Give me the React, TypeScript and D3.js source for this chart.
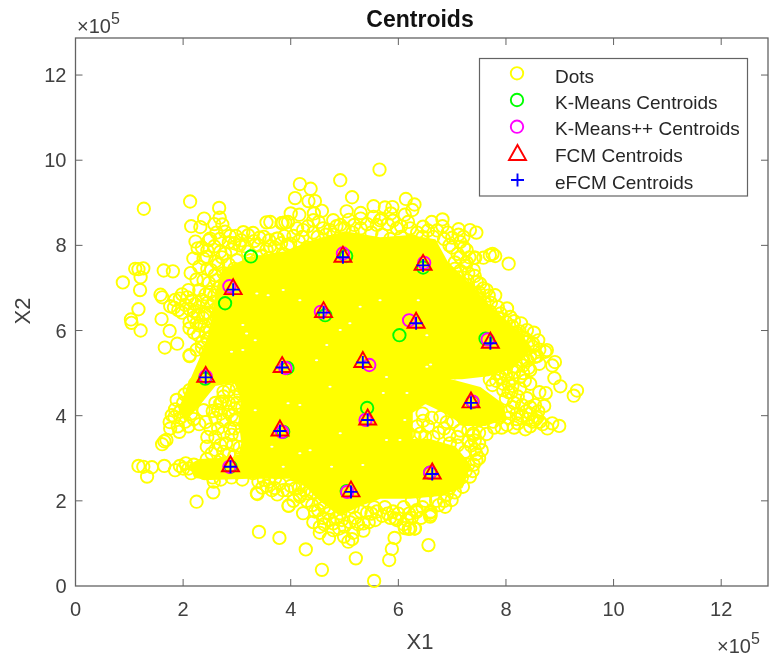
import React from "react";
import * as d3 from "d3";

// All values are in units of 10^5.
const AXIS_MAX = 12.87;
const tickValues = [0, 2, 4, 6, 8, 10, 12];
const chartTitle = "Centroids";
const xLabel = "X1";
const yLabel = "X2";
const legendLabels = ["Dots", "K-Means Centroids", "K-Means++ Centroids", "FCM Centroids", "eFCM Centroids"];

// Individually readable "Dots" (fringe of the cloud), estimated by eye.
const dotPoints: [number, number][] = [
  [1.27,8.86],[2.13,9.03],[2.67,8.88],[2.68,8.65],[2.39,8.63],[2.15,8.45],[2.32,8.43],[2.58,8.5],[2.73,8.49],[2.5,8.16],
  [2.23,8.09],[2.27,7.93],[2.87,8.22],[2.85,8.07],[3.12,8.31],[3.3,8.29],[3.21,8.24],[3.55,8.54],[3.76,8.16],[3.5,8.2],
  [2.19,7.69],[2.38,7.69],[2.44,7.73],[2.14,7.35],[1.64,7.41],[1.81,7.39],[1.11,7.45],[1.26,7.46],[1.17,7.44],[1.21,7.25],
  [0.88,7.13],[1.2,6.95],[1.58,6.84],[1.61,6.78],[1.17,6.5],[1.03,6.26],[1.04,6.18],[1.21,6.0],[1.6,6.27],[1.75,5.99],
  [1.66,5.6],[1.89,5.69],[2.12,5.42],[2.12,6.05],[2.28,5.89],[1.76,6.57],[1.83,6.54],[1.91,6.48],[1.94,6.75],[2.1,6.95],
  [2.04,6.6],[2.16,6.7],[2.38,7.18],[2.59,7.3],[2.78,7.81],[2.69,7.85],[2.25,6.17],[2.37,6.3],[2.3,6.55],[2.2,6.45],
  [5.65,9.78],[4.92,9.53],[4.17,9.44],[4.37,9.33],[4.08,9.11],[4.33,9.04],[4.45,9.04],[5.14,9.13],[6.14,9.09],[6.3,8.96],
  [6.26,8.83],[6.12,8.72],[5.04,8.8],[4.58,8.81],[4.43,8.75],[5.54,8.92],[5.75,8.89],[5.89,8.9],[5.86,8.75],[5.3,8.76],
  [4.0,8.75],[4.16,8.72],[3.85,8.53],[3.95,8.55],[3.62,8.55],[4.42,8.59],[4.52,8.55],[4.79,8.59],[4.92,8.48],[5.3,8.63],
  [5.54,8.67],[5.69,8.63],[5.97,8.4],[6.22,8.4],[6.46,8.44],[6.62,8.55],[6.82,8.61],[6.82,8.45],[7.12,8.38],[7.33,8.36],
  [7.45,8.3],[7.21,8.2],[7.15,8.08],[7.43,7.71],[7.58,7.71],[7.7,7.77],[7.27,7.89],[7.27,7.6],[7.46,7.14],[7.58,6.99],
  [7.5,6.9],[3.74,8.16],[3.99,8.04],[4.23,8.36],[4.73,8.36],[3.83,8.52],[3.9,8.54],[5.66,8.59],
  [8.05,7.57],[7.8,7.75],[7.75,7.8],[7.41,7.71],[8.28,6.17],[8.39,6.01],[8.6,5.77],[8.73,5.5],[8.91,5.26],[8.86,5.18],
  [8.9,4.88],[9.01,4.69],[9.32,4.59],[9.26,4.47],[8.74,4.53],[8.71,4.23],[8.99,3.76],[8.86,3.82],[8.77,3.7],[8.63,3.86],
  [8.36,3.68],[8.54,3.9],[7.64,3.57],[7.39,3.58],[7.05,5.02],[8.42,5.12],[8.26,4.91],[8.11,4.88],[7.95,4.6],[8.26,4.64],
  [8.39,4.41],[8.54,4.25],[8.37,4.1],[8.02,3.78],[7.76,3.86],[8.54,5.38],[8.45,5.07],[8.02,6.52],[7.9,6.4],[7.8,6.83],
  [7.64,6.95],[8.5,5.62],[8.76,5.54],[8.22,3.82],[8.5,3.86],[8.15,4.3],[8.3,4.0],[8.05,4.1],[8.62,4.55],[8.1,4.55],
  [6.56,0.96],[6.22,1.35],[6.31,1.35],[6.12,1.36],[6.6,1.67],[6.6,1.75],[6.34,1.74],[6.87,1.86],[6.99,2.02],[6.2,1.7],
  [7.2,2.33],[7.33,2.57],[7.55,3.19],[7.45,2.95],[7.39,3.54],[7.02,3.86],[6.78,3.97],[6.46,3.88],[7.3,3.66],[6.65,3.5],
  [6.41,3.58],[6.19,3.59],[6.96,3.35],[7.24,3.15],[7.5,3.6],[6.85,3.7],[7.1,3.5],[6.55,3.75],
  [2.12,5.4],[1.17,2.82],[1.26,2.8],[1.42,2.79],[1.33,2.57],[1.65,2.82],[1.94,2.82],[2.0,2.76],[2.1,2.76],[2.25,1.98],
  [2.57,2.45],[2.56,2.2],[3.38,2.16],[3.47,2.31],[3.96,1.89],[3.94,2.25],[4.08,2.29],[1.61,3.33],[1.69,3.43],[1.65,3.4],
  [1.76,3.7],[1.93,3.62],[1.84,3.97],[2.04,3.86],[1.94,4.09],[2.05,4.15],[2.51,3.68],[2.44,3.27],[2.53,3.11],[2.69,3.31],
  [2.8,3.35],[2.93,3.31],[2.55,4.11],[2.65,4.13],[2.69,4.29],[2.75,4.56],[2.75,4.45],[2.72,4.33],[2.84,4.09],[2.96,4.17],
  [3.0,3.92],[2.38,4.13],[2.87,3.7],[2.69,2.96],[2.44,2.98],[3.09,3.11],[3.2,3.0],[3.06,4.52],[3.21,4.68],[3.0,4.64],
  [3.65,2.25],[3.86,2.25],[4.17,2.1],[1.88,4.37],[2.03,4.5],[1.79,4.01],[1.9,3.75],[3.05,3.55],[3.15,3.8],[3.1,4.2],
  [2.95,3.9],[3.2,4.3],[2.6,3.5],[2.75,3.6],[3.05,3.25],[2.85,3.1],
  [5.55,0.12],[4.58,0.38],[5.21,0.65],[5.83,0.61],[5.88,0.87],[5.93,1.13],[4.28,0.86],[3.79,1.13],[3.41,1.27],[3.96,1.88],
  [3.37,2.18],[4.23,1.71],[4.42,1.5],[4.54,1.25],[4.71,1.12],[4.79,1.47],[4.99,1.16],[5.07,1.04],[5.14,1.1],[5.16,1.25],
  [5.35,1.3],[5.57,1.55],[5.94,1.59],[6.19,1.34],[6.3,1.35],[6.34,1.78],[6.59,1.63],[6.59,1.72],[4.51,1.78],[4.17,2.14],
  [4.3,2.18],[3.71,2.53],[3.3,2.65],[4.92,1.71],[4.79,1.31],[4.54,1.39],[5.35,1.47],[5.5,1.7],[6.16,1.55],[5.97,1.55],
  [5.8,1.7],[5.15,1.85],
  [2.9,7.9],[3.05,8.0],[3.2,7.85],[3.4,8.0],[3.55,7.9],[3.7,7.95],[3.85,7.8],[3.95,8.0],[4.15,8.1],[4.3,7.95],
  [4.5,8.2],[4.65,8.0],[4.8,8.25],[5.0,8.4],[5.15,8.3],[5.3,8.4],[5.5,8.3],[5.7,8.25],[5.85,8.15],[6.05,8.2],
  [6.25,8.1],[6.45,8.2],[6.65,8.2],[6.85,8.15],[7.0,7.95],[7.1,7.8],[7.05,7.6],[7.15,7.4],[7.3,7.35],[7.2,7.1],
  [7.35,6.9],[7.5,6.75],[7.6,6.65],[7.7,6.45],[7.85,6.3],[8.0,6.2],[8.12,6.1],[8.2,5.95],[8.3,5.85],[8.42,5.75],
  [8.35,5.55],[8.45,5.4],[8.3,5.3],[8.18,5.15],[8.0,5.1],[7.85,5.0],[7.7,4.85],[8.05,4.75],[7.9,4.9],
  [2.5,6.9],[2.65,7.0],[2.45,6.65],[2.6,6.5],[2.4,6.4],[2.55,6.2],[2.5,6.0],[2.45,5.8],[2.35,5.6],[2.4,6.1],[2.2,6.3],
  [3.0,7.3],[3.15,7.45],[3.3,7.4],[2.85,7.55],[3.0,7.65],[3.4,7.6],[3.55,7.5],[2.75,7.35],[2.9,7.2],[3.1,7.2],
  [3.6,7.7],[3.75,7.55],[3.9,7.6],[4.1,7.7],[4.0,7.4],[4.25,7.5],[3.45,7.75],[3.25,7.65],[2.95,7.45],[2.65,7.55],
  [3.6,2.45],[3.8,2.4],[4.0,2.35],[4.15,2.3],[4.3,2.0],[4.4,1.9],[4.55,1.95],[4.6,1.6],[4.7,1.7],[4.85,1.6],
  [5.0,1.4],[5.25,1.45],[5.45,1.5],[5.6,1.75],[5.75,1.85],[5.9,1.75],[6.1,1.85],[6.25,2.0],[6.5,2.0],[6.7,2.0],
  [6.9,2.15],[7.1,2.45],[7.25,2.7],[7.4,2.85],[7.45,3.1],[7.35,3.3],[7.5,3.35],
  [2.3,7.5],[2.45,7.45],[2.25,7.2],[2.48,7.12],[2.62,7.18],[2.3,6.95],[2.42,6.85],[2.58,6.82],[2.22,6.62],[2.35,6.72],
  [2.52,6.58],[2.12,6.5],[1.98,6.42],[1.85,6.72],[1.98,6.85],[2.08,6.78],[2.28,6.38],[2.45,6.42],[2.12,6.2],[2.3,6.12],
  [2.42,5.95],[2.2,5.95],[2.35,5.72],[2.25,5.55],[2.42,5.5],[2.55,5.7],[2.6,5.95],[2.62,6.3],[2.58,6.68],[2.78,7.05],
  [2.52,7.42],[2.6,7.62],[2.45,7.88],[2.58,7.98],[2.72,7.72],[2.35,7.95],[2.48,8.12],[2.68,8.15],[2.62,8.3],[2.78,8.32],
  [2.98,8.22],[2.95,8.05],[3.08,8.12],[3.15,7.98],[3.32,8.1],[3.42,8.18],[3.6,8.12],[3.62,7.98],[3.82,8.05],[3.88,8.22],
  [4.05,8.22],[4.12,8.4],[4.22,8.2],[4.32,8.45],[4.42,8.3],[4.6,8.4],[4.65,8.25],[4.85,8.45],[5.08,8.6],[5.18,8.48],
  [5.42,8.5],[5.6,8.48],[5.8,8.5],[5.9,8.58],[6.05,8.45],[6.18,8.55],[6.35,8.3],[6.55,8.35],[6.72,8.35],[6.92,8.3],
  [7.0,8.18],[7.12,8.25],[6.95,8.0],[7.22,7.95],[7.15,7.72],[7.32,7.72],[7.05,7.45],[7.25,7.52],[7.4,7.42],[7.12,7.25],
  [7.28,7.18],[7.42,7.28],[7.52,7.1],[7.3,6.98],[7.45,6.85],[7.68,6.82],[7.55,6.55],[7.72,6.65],[7.85,6.55],
  [7.82,6.18],[7.95,6.05],[8.08,6.32],[8.15,6.22],[8.25,5.98],[8.12,5.95],[8.35,5.82],[8.52,5.95],[8.5,5.7],[8.62,5.55],
  [8.58,5.4],[8.4,5.3],[8.62,5.22],[8.32,5.18],[8.15,5.02],[8.32,5.0],[8.0,4.95],[7.82,4.82],[7.95,4.75],[8.12,4.7],
  [7.75,4.72],[8.35,4.82],[8.45,4.75],[8.05,4.55],[8.22,4.45],[8.0,4.4],[8.3,4.25],[8.12,4.2],[8.45,4.2],[8.45,4.05],
  [8.2,4.05],[8.6,4.1],[8.58,3.95],[8.4,3.92],[8.2,3.92],[8.05,3.95],[7.88,3.95],[7.78,3.72],[7.92,3.72],[8.15,3.72],
  [8.45,3.75],[8.68,3.8],
  [6.5,3.5],[6.75,3.6],[6.95,3.55],[7.15,3.65],[7.3,3.4],[7.1,3.3],[6.9,3.85],[6.62,3.95],[6.45,4.05],[6.35,3.75],
  [6.3,3.5],[7.42,3.42],[7.2,3.95],
  [2.9,3.55],[2.65,3.7],[2.45,3.5],[2.6,3.2],[2.75,3.15],[2.95,3.05],[2.85,4.3],[2.95,4.45],[2.85,4.6],[3.0,4.3],
  [2.9,4.0],[2.75,3.9],[2.6,3.95],[2.42,3.85],[2.3,3.8],[2.95,3.7],[2.7,4.05],[2.6,4.3],
  [1.75,3.85],[1.85,4.15],[2.0,4.3],[2.15,4.05],[2.2,3.92],[2.1,3.75],[1.95,3.95],[2.12,4.6],[2.22,4.75],
  [2.2,2.85],[2.3,2.75],[2.4,2.65],[2.15,2.65],[2.05,2.88],[1.85,2.72],[2.55,2.55],[2.7,2.5],[2.9,2.55],[3.1,2.5],
  [3.4,2.45],[3.5,2.5],
  [3.55,2.35],[3.7,2.3],[3.75,2.15],[4.05,2.0],[4.25,2.25],[4.4,2.2],[4.45,1.75],[4.62,1.85],[4.62,1.45],[4.72,1.55],
  [4.9,1.35],[4.95,1.55],[5.1,1.5],[5.2,1.6],[5.3,1.75],[5.42,1.72],[5.55,1.85],[5.7,1.65],[5.85,1.6],[6.0,1.7],
  [6.1,1.45],[6.25,1.6],[6.45,1.85],[6.42,1.6],[6.75,1.9],[6.85,2.0],[6.95,2.3],[7.05,2.2],[7.18,2.55],[7.3,2.85],
  [7.38,2.7],[7.5,3.0],[7.42,3.2],
];

// Outline of the area where the overplotted rings merge into solid yellow.
const solidCloudX = [2.74,3.24,3.89,4.45,5.01,5.66,6.22,6.68,6.9,7.33,7.67,7.98,8.3,8.45,8.11,7.67,7.18,6.78,7.05,7.52,7.95,7.98,7.61,7.24,6.87,6.5,6.25,6.25,6.59,7.05,7.33,7.18,6.78,6.22,5.66,5.29,4.92,4.54,4.27,3.99,3.24,2.5,2.22,2.13,2.31,2.96,3.05,3.1,3.05,3.1,2.96,2.59,2.26,2.04,1.94,2.1,2.31,2.5,2.63];
const solidCloudY = [7.42,7.7,7.84,8.12,8.31,8.17,8.22,8.12,7.61,7.07,6.6,6.24,5.89,5.54,5.12,4.95,4.88,4.88,4.81,4.65,4.25,3.94,3.78,3.78,4.08,4.3,4.08,3.43,3.43,3.26,2.84,2.32,2.14,2.07,2.07,1.9,1.67,2.02,2.37,2.54,2.54,2.51,2.56,2.84,2.96,3.0,3.1,3.35,3.9,4.4,4.79,4.72,4.2,3.9,4.13,4.7,5.31,5.94,6.95];

// Small uncovered specks inside the solid area.
const gapX = [3.37,3.58,3.11,3.34,2.9,3.18,5.1,5.78,4.73,4.17,6.53,5.78,6.03,5.34,4.36,4.92,4.48,6.53,4.67,5.72,6.16,3.11,3.0,3.05,3.95,3.34,4.17,4.76,3.86,6.12,4.92,3.65,6.37,6.6,5.29,5.66,4.17,3.86];
const gapY = [6.87,6.83,6.13,5.77,5.5,5.93,6.17,4.91,4.68,4.25,5.15,3.43,3.43,2.84,3.19,6.01,5.3,5.89,5.66,4.53,4.53,5.54,3.27,3.1,4.29,4.13,3.12,2.8,2.8,3.9,3.59,3.27,6.71,5.2,6.56,6.71,6.71,6.95];

const kMeansX = [2.78,3.26,5.03,6.46,7.62,7.38,4.64,6.02,3.94,5.42,2.41,3.86,2.88,6.59,5.04];
const kMeansY = [6.64,7.74,7.75,7.48,5.81,4.32,6.36,5.89,5.12,4.18,4.87,3.62,2.8,2.66,2.23];
const kMeansPPX = [2.86,4.97,6.48,7.66,7.38,4.56,6.2,3.9,5.46,2.42,5.39,3.84,2.86,6.59,5.05];
const kMeansPPY = [7.04,7.81,7.59,5.79,4.33,6.44,6.24,5.12,5.19,4.92,3.9,3.62,2.8,2.66,2.21];
const fcmX = [2.93,4.97,6.46,7.71,7.35,4.61,6.33,3.84,5.34,2.42,5.43,3.8,2.88,6.63,5.12];
const fcmY = [6.96,7.72,7.53,5.7,4.3,6.42,6.17,5.13,5.25,4.9,3.9,3.64,2.8,2.63,2.21];
const efcmX = [2.93,4.97,6.46,7.71,7.35,4.61,6.33,3.84,5.34,2.42,5.43,3.8,2.88,6.63,5.12];
const efcmY = [6.96,7.72,7.53,5.7,4.3,6.42,6.17,5.13,5.25,4.9,3.9,3.64,2.8,2.63,2.21];

const FONT = '"Liberation Sans", Arial, sans-serif';
const TEXT = "#404040";
const AXIS = "#636363";
const left = 75.5, right = 768, top = 38, bottom = 586;

const x = d3.scaleLinear().domain([0, AXIS_MAX]).range([left, right]);
const y = d3.scaleLinear().domain([0, AXIS_MAX]).range([bottom, top]);

const R = 6.2, SW = 1.9;
const tri = (cx: number, cy: number) => `M${cx},${cy - 10.5}L${cx + 8.5},${cy + 4.5}L${cx - 8.5},${cy + 4.5}Z`;
const plus = (cx: number, cy: number) => `M${cx - 6.5},${cy}H${cx + 6.5}M${cx},${cy - 6.5}V${cy + 6.5}`;

export default function App() {
  const cloudPath = d3
    .line<number>()
    .x((d) => x(solidCloudX[d]))
    .y((d) => y(solidCloudY[d]))
    .curve(d3.curveLinearClosed)(solidCloudX.map((_, i) => i))!;
  const ticks = x.ticks(7).filter((t) => tickValues.includes(t));
  const legendY = [73.3, 100, 126.7, 155.5, 180];
  const legendTextY = [82.5, 108.5, 135, 161.5, 188.5];
  return (
    <svg width={771} height={663} style={{ position: "absolute", left: 0, top: 0, background: "#fff", filter: "blur(0.35px)" }}>
      <rect x={left} y={top} width={right - left} height={bottom - top} fill="#fff" stroke={AXIS} strokeWidth={1.3} />
      {ticks.map((t) => (
        <g key={t} stroke={AXIS} strokeWidth={1}>
          {t > 0 && <line x1={x(t)} x2={x(t)} y1={bottom} y2={bottom - 7} />}
          {t > 0 && <line x1={x(t)} x2={x(t)} y1={top} y2={top + 7} />}
          {t > 0 && <line x1={left} x2={left + 7} y1={y(t)} y2={y(t)} />}
          {t > 0 && <line x1={right} x2={right - 7} y1={y(t)} y2={y(t)} />}
        </g>
      ))}
      <g fontFamily={FONT} fontSize={20} fill={TEXT}>
        {ticks.map((t) => (
          <text key={"x" + t} x={x(t)} y={bottom + 30} textAnchor="middle">{t}</text>
        ))}
        {ticks.map((t) => (
          <text key={"y" + t} x={left - 9} y={y(t) + 7} textAnchor="end">{t}</text>
        ))}
        <text x={77} y={33}>×10<tspan dy={-9} fontSize={16}>5</tspan></text>
        <text x={717} y={653}>×10<tspan dy={-9} fontSize={16}>5</tspan></text>
      </g>
      <text x={420} y={649} fontFamily={FONT} fontSize={22} fill={TEXT} textAnchor="middle">{xLabel}</text>
      <text transform="translate(30,311) rotate(-90)" fontFamily={FONT} fontSize={22} fill={TEXT} textAnchor="middle">{yLabel}</text>
      <text x={420} y={27} fontFamily={FONT} fontSize={23} fontWeight="bold" fill="#111" textAnchor="middle">{chartTitle}</text>

      <path d={cloudPath} fill="#ffff00" stroke="#ffff00" strokeWidth={2} strokeLinejoin="round" />
      <g fill="#fff">
        {gapX.map((a, i) => <ellipse key={i} cx={x(a)} cy={y(gapY[i])} rx={1.6} ry={1} />)}
      </g>
      <g fill="none" stroke="#ffff00" strokeWidth={SW}>
        {dotPoints.map(([a, b], i) => (
          <circle key={i} cx={x(a)} cy={y(b)} r={R} />
        ))}
      </g>
      <g fill="none" stroke="#00ff00" strokeWidth={SW}>
        {kMeansX.map((a, i) => <circle key={i} cx={x(a)} cy={y(kMeansY[i])} r={R} />)}
      </g>
      <g fill="none" stroke="#ff00ff" strokeWidth={SW}>
        {kMeansPPX.map((a, i) => <circle key={i} cx={x(a)} cy={y(kMeansPPY[i])} r={R} />)}
      </g>
      <g fill="none" stroke="#ff0000" strokeWidth={SW}>
        {fcmX.map((a, i) => <path key={i} d={tri(x(a), y(fcmY[i]))} />)}
      </g>
      <g fill="none" stroke="#0000ff" strokeWidth={SW}>
        {efcmX.map((a, i) => <path key={i} d={plus(x(a), y(efcmY[i]))} />)}
      </g>

      <rect x={479.5} y={58.5} width={268} height={137.5} fill="#fff" stroke={AXIS} strokeWidth={1.2} />
      <circle cx={517} cy={legendY[0]} r={R} fill="none" stroke="#ffff00" strokeWidth={SW} />
      <circle cx={517} cy={legendY[1]} r={R} fill="none" stroke="#00ff00" strokeWidth={SW} />
      <circle cx={517} cy={legendY[2]} r={R} fill="none" stroke="#ff00ff" strokeWidth={SW} />
      <path d={tri(517.5, legendY[3])} fill="none" stroke="#ff0000" strokeWidth={SW} />
      <path d={plus(517.5, legendY[4])} fill="none" stroke="#0000ff" strokeWidth={SW} />
      <g fontFamily={FONT} fontSize={19} fill="#262626">
        {legendLabels.map((l, i) => (
          <text key={l} x={555} y={legendTextY[i]}>{l}</text>
        ))}
      </g>
    </svg>
  );
}
